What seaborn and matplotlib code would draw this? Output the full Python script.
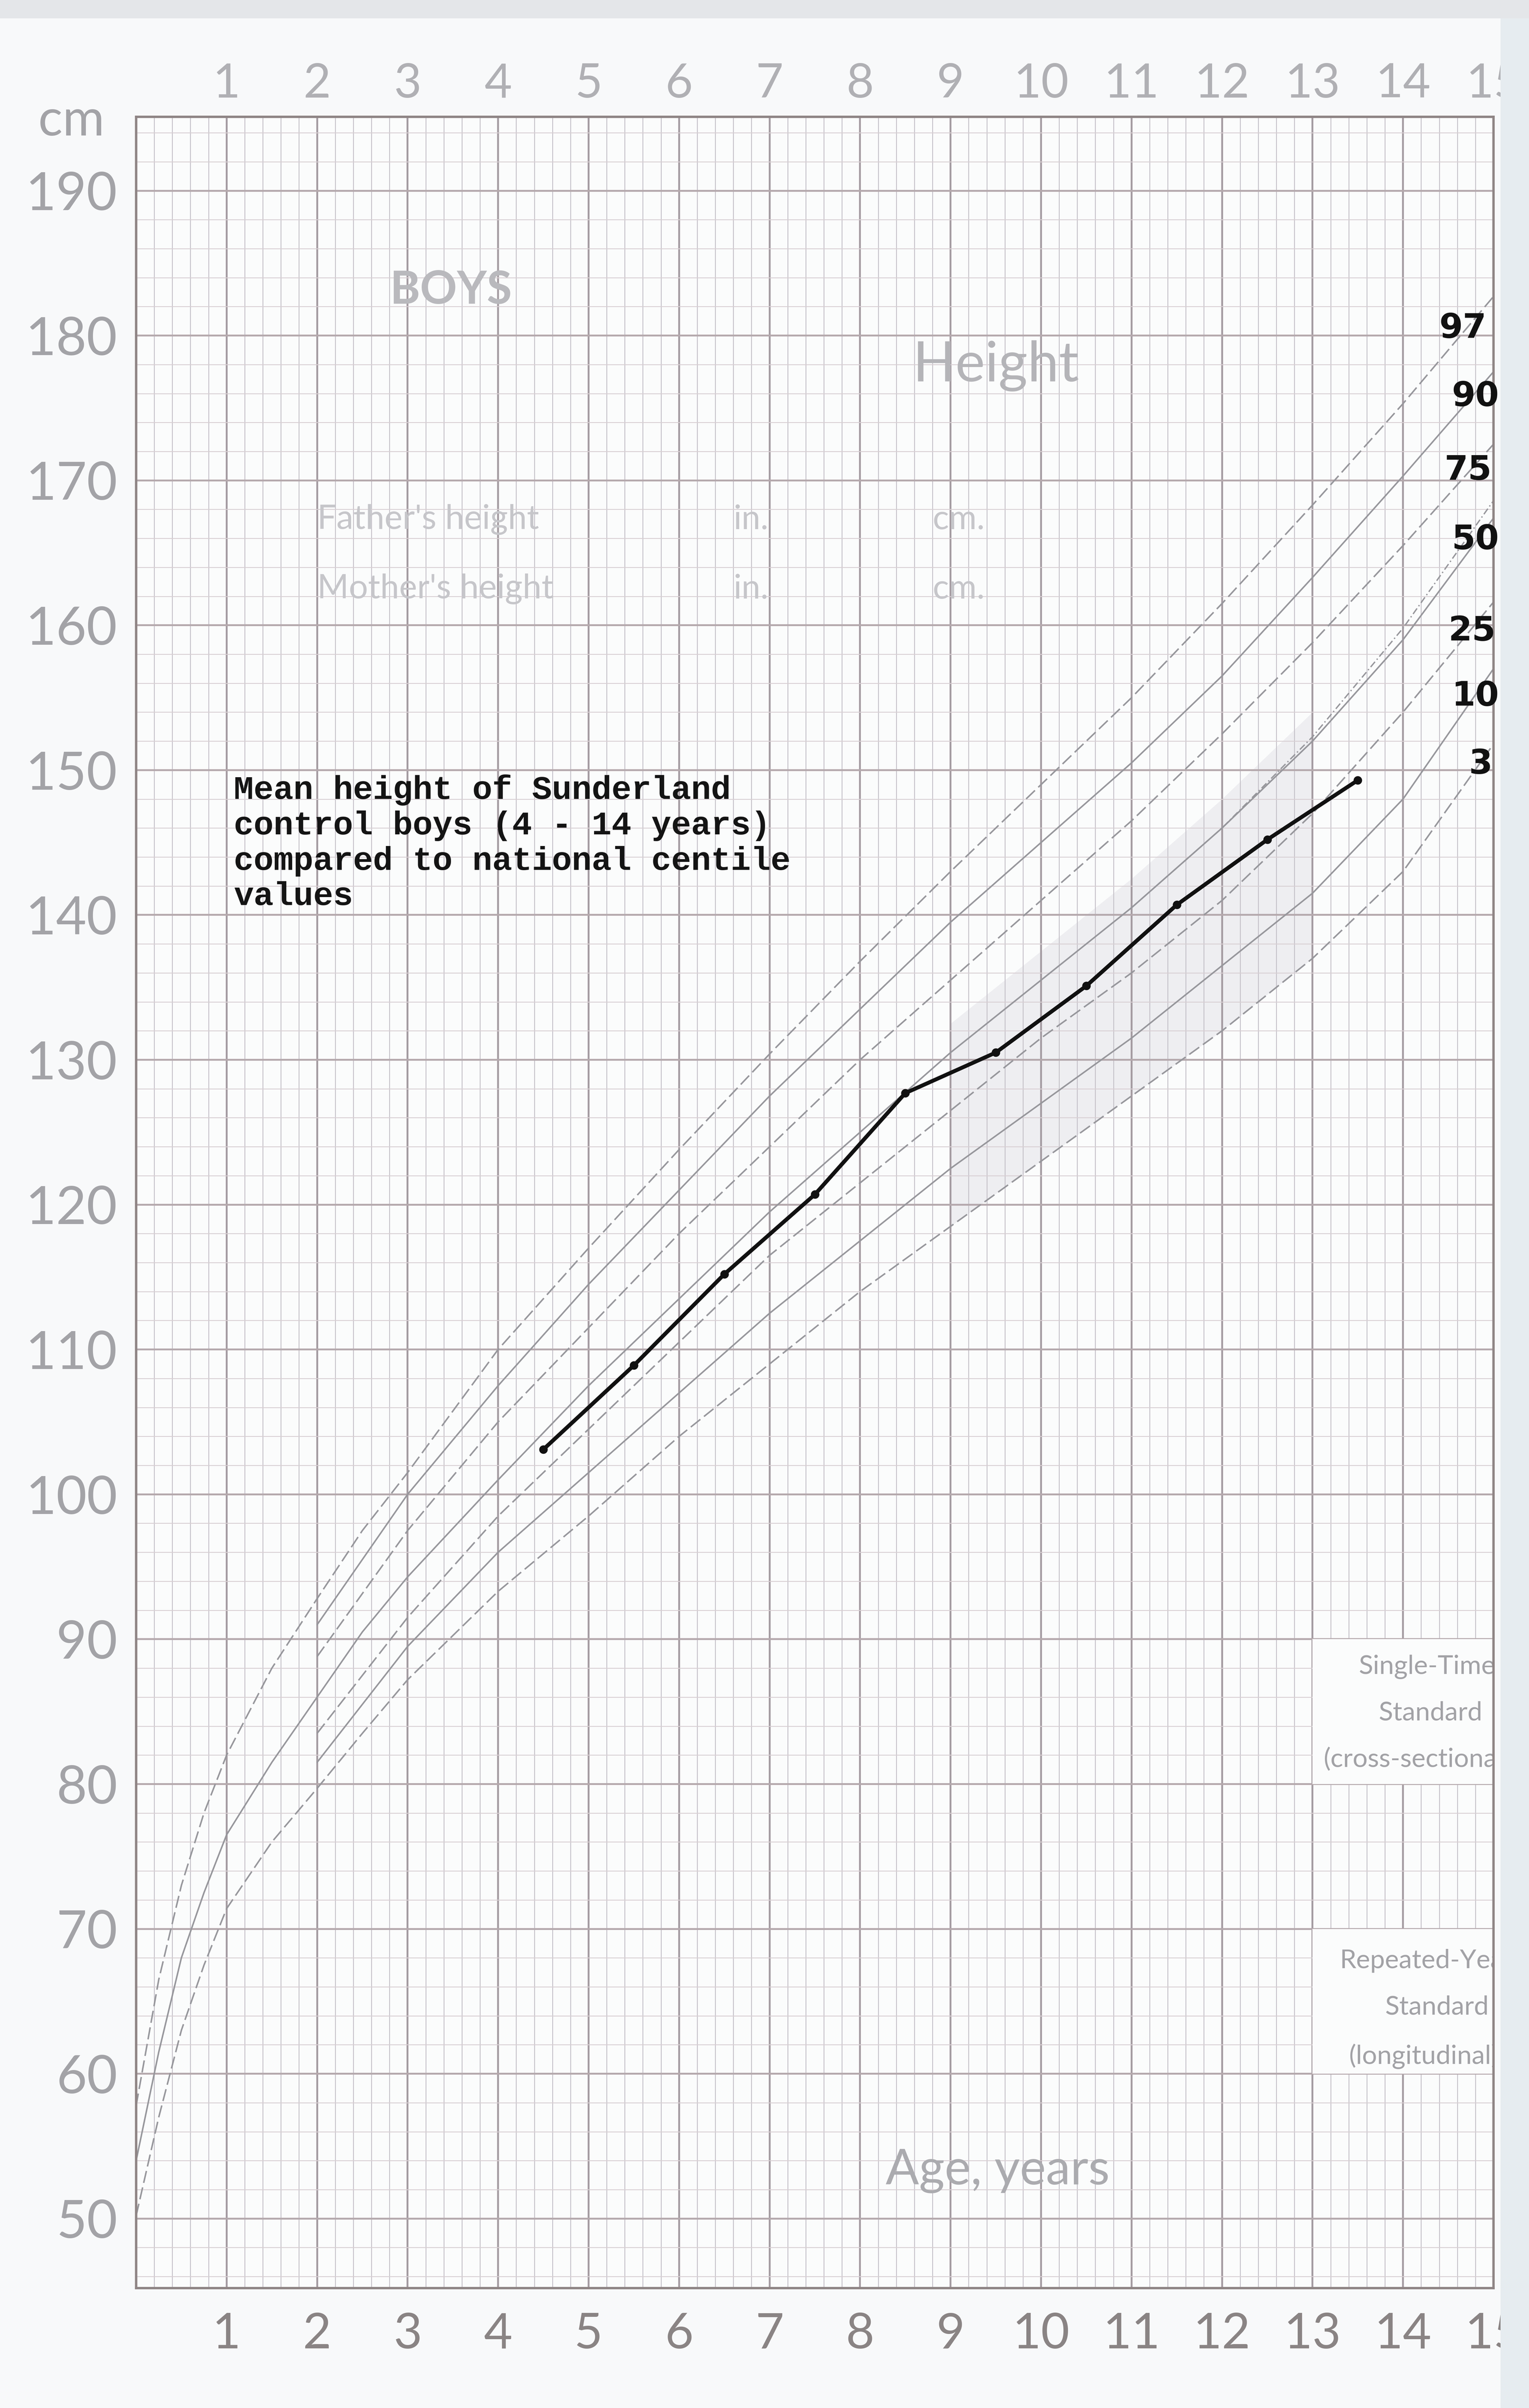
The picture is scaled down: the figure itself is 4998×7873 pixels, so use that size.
import matplotlib
matplotlib.use("Agg")
import matplotlib.pyplot as plt
import seaborn as sns
import numpy as np
from matplotlib.patches import Rectangle

# centile curves: age (years) -> height (cm)
early_ages = [0, 0.25, 0.5, 0.75, 1, 1.5, 2, 2.5, 3, 4, 5, 6, 7, 8, 9, 10, 11, 12, 13, 14, 15]
p97 = [57.8, 66.5, 73.0, 78.0, 82.0, 88.0, 92.8, 97.5, 101.5, 110.0, 117.0, 123.8, 130.4,
       136.8, 143.0, 149.0, 155.0, 161.5, 168.3, 175.3, 182.7]
p50 = [54.0, 61.5, 68.0, 72.5, 76.5, 81.5, 86.0, 90.5, 94.3, 101.0, 107.5, 113.5, 119.5,
       125.0, 130.5, 135.5, 140.5, 146.0, 152.0, 159.0, 167.4]
p3 = [50.2, 57.0, 63.0, 67.5, 71.4, 76.0, 79.7, 83.5, 87.2, 93.3, 98.5, 104.0, 109.0,
      114.0, 118.5, 123.0, 127.5, 132.0, 137.0, 143.0, 151.8]

late_ages = [2, 3, 4, 5, 6, 7, 8, 9, 10, 11, 12, 13, 14, 15]
p90 = [91.0, 100.0, 107.5, 114.5, 121.0, 127.5, 133.5, 139.5, 145.0, 150.5, 156.5, 163.3, 170.3, 177.5]
p75 = [88.8, 97.5, 105.0, 111.5, 118.0, 124.0, 130.0, 135.5, 141.0, 146.5, 152.5, 158.8, 165.5, 172.5]
p25 = [83.5, 91.5, 98.5, 104.5, 110.5, 116.5, 121.5, 126.5, 131.5, 136.0, 141.0, 147.0, 154.0, 161.6]
p10 = [81.5, 89.5, 96.0, 101.5, 107.0, 112.5, 117.5, 122.5, 127.0, 131.5, 136.5, 141.5, 148.0, 157.0]

# second (longitudinal) 50th line that splits off near the top right
long_ages = [11, 12, 13, 14, 15]
p50_long = [140.5, 146.0, 152.3, 159.8, 168.6]

# Sunderland control boys, mean heights
mean_ages = [4.5, 5.5, 6.5, 7.5, 8.5, 9.5, 10.5, 11.5, 12.5, 13.5]
mean_height = [103.1, 108.9, 115.2, 120.7, 127.7, 130.5, 135.1, 140.7, 145.2, 149.3]

year_ticks = list(range(1, 16))
cm_ticks = list(range(50, 200, 10))
centile_names = ["97", "90", "75", "50", "25", "10", "3"]
centile_label_x = [14.66, 14.80, 14.72, 14.80, 14.76, 14.80, 14.86]
centile_label_y = [180.5, 175.8, 170.7, 165.9, 159.6, 155.1, 150.4]

sns.set_style("white")
plt.rcParams["font.family"] = ["Lato", "DejaVu Sans"]

W, H, DPI = 4998, 7873, 200
fig = plt.figure(figsize=(W / DPI, H / DPI), dpi=DPI, facecolor="#f8f9fa")
ax = fig.add_axes([445 / W, 1 - 7481 / H, (4882 - 445) / W, (7481 - 382) / H])
ax.set_facecolor("#fbfcfc")

ax.set_xlim(0, 15)
ax.set_ylim(45.2, 195.1)

# graph paper grid
ax.set_xticks(year_ticks)
ax.set_xticks(np.arange(0, 15.01, 0.2), minor=True)
ax.set_yticks(cm_ticks)
ax.set_yticks(np.arange(46, 195, 2), minor=True)
ax.set_axisbelow(True)
ax.grid(which="major", axis="x", color="#a59ca2", linewidth=2.2)
ax.grid(which="major", axis="y", color="#b5a9ad", linewidth=2.2)
ax.grid(which="minor", axis="x", color="#c4c0c8", linewidth=1.0)
ax.grid(which="minor", axis="y", color="#d8cfd3", linewidth=1.0)
for s in ax.spines.values():
    s.set_color("#8f8585")
    s.set_linewidth(2.8)

label_grey = "#a3a3a7"
ax.tick_params(which="both", length=0)
ax.tick_params(axis="y", labelsize=62, labelcolor=label_grey, pad=22)
ax.tick_params(axis="x", labelsize=58, labelcolor="#8a8484", pad=28)
top = ax.secondary_xaxis("top")
top.set_xticks(year_ticks)
top.tick_params(length=0, labelsize=56, labelcolor="#b0b0b4", pad=13)
for s in top.spines.values():
    s.set_visible(False)
ax.text(-0.35, 194.8, "cm", fontsize=60, color=label_grey, ha="right", va="center", clip_on=False)

# faint shaded band of the printed chart (under the grid)
ax.fill_between(early_ages[14:19], p3[14:19], [v + 2 for v in p50[14:19]],
                color="#eeeef1", lw=0, zorder=0.3)

# white boxes of the chart key at the right
ax.add_patch(Rectangle((13, 80), 2.5, 10, facecolor="#fbfcfc", edgecolor="none", zorder=1))
ax.add_patch(Rectangle((13, 60), 2.5, 10, facecolor="#fbfcfc", edgecolor="none", zorder=1))

curve_grey = "#97979c"
dash = (0, (8, 3))
curves = [
    (early_ages, p97, dash), (late_ages, p90, "-"), (late_ages, p75, dash),
    (early_ages, p50, "-"), (late_ages, p25, dash), (late_ages, p10, "-"),
    (early_ages, p3, dash),
]
for xs, ys, ls in curves:
    sns.lineplot(x=xs, y=ys, ax=ax, color=curve_grey, linewidth=1.8, linestyle=ls, zorder=2)
sns.lineplot(x=long_ages, y=p50_long, ax=ax, color=curve_grey, linewidth=1.6,
             linestyle=(0, (5, 2, 1, 2)), zorder=2)

sns.lineplot(x=mean_ages, y=mean_height, ax=ax, color="#111111", linewidth=4.6,
             marker="o", markersize=10, markeredgewidth=0, zorder=4)

for name, lx, ly in zip(centile_names, centile_label_x, centile_label_y):
    ax.text(lx, ly, name, fontsize=40, fontweight="bold", color="#111111",
            family=["DejaVu Sans"], ha="center", va="center", zorder=5)

# printed chart text
ax.text(3.48, 183.1, "BOYS", fontsize=54, fontweight="bold", color="#b9b9bd", ha="center", va="center")
ax.text(9.5, 177.9, "Height", fontsize=66, color="#b4b4b8", ha="center", va="center")
for yy, who in [(167.3, "Father's height"), (162.5, "Mother's height")]:
    ax.text(2.0, yy, who, fontsize=40, color="#c6c6ca", ha="left", va="center")
    ax.text(6.6, yy, "in.", fontsize=40, color="#c6c6ca", ha="left", va="center")
    ax.text(8.8, yy, "cm.", fontsize=40, color="#c6c6ca", ha="left", va="center")
ax.text(9.52, 53.3, "Age, years", fontsize=58, color="#ababaf", ha="center", va="center")

key_grey = "#a2a2a6"
key_lines = [
    (13.51, 88.1, "Single-Time"), (13.73, 84.9, "Standard"), (13.12, 81.7, "(cross-sectional)"),
    (13.3, 67.8, "Repeated-Year"), (13.8, 64.6, "Standard"), (13.4, 61.2, "(longitudinal)"),
]
for kx, ky, txt in key_lines:
    ax.text(kx, ky, txt, fontsize=31, color=key_grey, ha="left", va="center", zorder=2, clip_on=True)

# typed note
ax.text(1.08, 149.7,
        "Mean height of Sunderland\ncontrol boys (4 - 14 years)\ncompared to national centile\nvalues",
        fontsize=39, fontweight="bold", family=["Liberation Mono"], color="#141414",
        ha="left", va="top", linespacing=1.2)

# page edges of the scan
fig.add_artist(Rectangle((4905 / W, 0), 1, 1, transform=fig.transFigure,
                         facecolor="#e6ecf0", edgecolor="none", zorder=10))
fig.add_artist(Rectangle((0, 1 - 60 / H), 1, 60 / H, transform=fig.transFigure,
                         facecolor="#e4e6e9", edgecolor="none", zorder=10))

fig.savefig("out.png", dpi=DPI, facecolor=fig.get_facecolor())
